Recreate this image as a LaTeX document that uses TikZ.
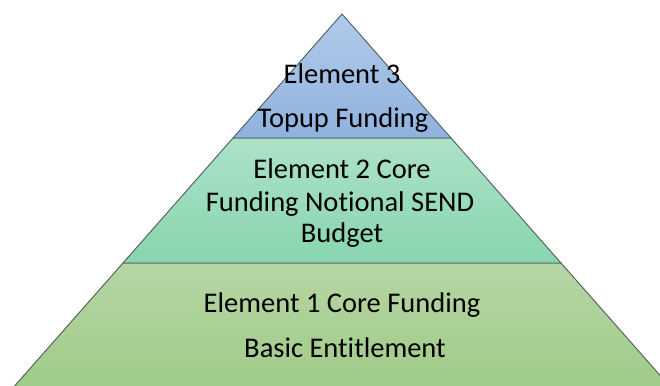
\documentclass[tikz,border=0pt]{standalone}
\usepackage{fontspec}
\setmainfont{Carlito}[Ligatures=CommonOff]
\usepackage{tikz}
\usepackage{xcolor}

\definecolor{blueTop}{RGB}{178,202,234}
\definecolor{blueBot}{RGB}{143,178,222}
\definecolor{greenTop}{RGB}{172,226,198}
\definecolor{greenBot}{RGB}{136,213,175}
\definecolor{oliveTop}{RGB}{182,214,164}
\definecolor{oliveBot}{RGB}{158,202,134}
\definecolor{edge}{RGB}{80,90,90}

\begin{document}
\begin{tikzpicture}[x=1pt, y=-1pt,
    tier/.style={draw=edge, line width=0.9pt, line join=miter},
    lbl/.style={font=\fontsize{28.5}{34}\selectfont, anchor=base, inner sep=0pt}]
                \useasboundingbox (0,0) rectangle (660,385);
                \clip (0,0) rectangle (660,385);

                % corners of the tiers
                \coordinate (apex) at (342,14);
                \coordinate (l1) at (233,138);
                \coordinate (r1) at (451,138);
                \coordinate (l2) at (123,263);
                \coordinate (r2) at (561,263);
                \coordinate (l3) at (4,398);
                \coordinate (r3) at (680,398);

                % Bottom tier
                \draw[tier, top color=oliveTop, bottom color=oliveBot] (l2) -- (r2) -- (r3) -- (l3) -- cycle;
                \node[lbl] (e1a) at (342,312) {Element 1 Core Funding};
                \node[lbl] (e1b) at (345,357) {Basic Entitlement};

                % Middle tier
                \draw[tier, top color=greenTop, bottom color=greenBot] (l1) -- (r1) -- (r2) -- (l2) -- cycle;
                \node[lbl] (e2a) at (342,178) {Element 2 Core};
                \node[lbl] (e2b) at (340,211) {Funding Notional SEND};
                \node[lbl] (e2c) at (342,242) {Budget};

                % Top tier
                \draw[tier, top color=blueTop, bottom color=blueBot] (apex) -- (r1) -- (l1) -- cycle;
                \node[lbl] (e3a) at (342,84) {Element 3};
                \node[lbl] (e3b) at (343,127) {Topup Funding};
            \end{tikzpicture}
\end{document}
